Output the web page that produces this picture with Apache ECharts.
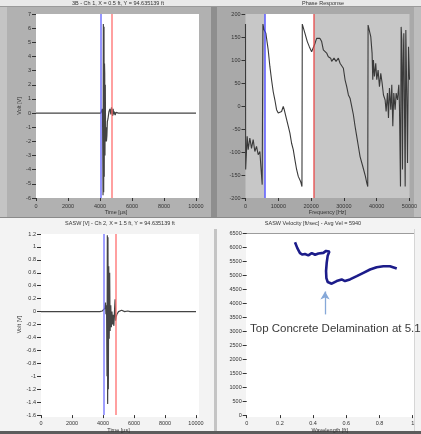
<!DOCTYPE html>
<html>
<head>
<meta charset="utf-8">
<script src="https://cdn.jsdelivr.net/npm/echarts@6/dist/echarts.min.js"></script>
<style>
  html, body { margin: 0; padding: 0; background: #f3f3f3; }
  #chart { width: 421px; height: 434px; }
</style>
</head>
<body>
<div id="chart"></div>
<script>
// ---- Channel 1 time trace (µs, V) ----
const ch1Time = [0, 4050, 4100, 4140, 4160, 4190, 4210, 4230, 4250, 4265, 4280, 4295, 4310, 4330, 4350, 4380, 4400, 4430, 4460, 4500, 4560, 4620, 4680, 4720, 4760, 4790, 4820, 4860, 4900, 4950, 5000, 5060, 5150, 10000];
const ch1Volt = [0, 0, -0.05, 0.3, -0.1, -5.8, 6.3, -5.6, 6.1, -4.5, 3.5, 2.8, -3.0, 2.0, -2.0, -1.0, -2.0, -1.6, -0.6, -0.4, 0.1, 0.3, -0.1, 0.4, 0.5, -0.2, 0.3, -0.1, 0.1, -0.15, 0.05, -0.05, 0, 0];
const ch1Cursors = [4050, 4750];

// ---- Phase response (Hz, degrees) ----
const phaseFreq = [0, 50, 510, 820, 1320, 1830, 2340, 2850, 3360, 3870, 4380, 4680, 5090, 5300, 5310, 5700, 6210, 6920, 7430, 7940, 8450, 8960, 9470, 9980, 10490, 11000, 11510, 11810, 12320, 13030, 13540, 14050, 14560, 15070, 15580, 16090, 16800, 17210, 17310, 17620, 18130, 18840, 19450, 20160, 20670, 21180, 21690, 22710, 23220, 23730, 24740, 25250, 25970, 26270, 26990, 27600, 28310, 28820, 29330, 29840, 30350, 30860, 31370, 31870, 32380, 32890, 33400, 33910, 34420, 34930, 35740, 36560, 36970, 37270, 37370, 37780, 38190, 38590, 38800, 39000, 39310, 39710, 40020, 40430, 40840, 41240, 41650, 42060, 42570, 42870, 43280, 43590, 43890, 44300, 44600, 44910, 45210, 45620, 45930, 46330, 46740, 46940, 47250, 47450, 47660, 47860, 48060, 48270, 48470, 48680, 48880, 49190, 49390, 49700, 50000];
const phaseDeg = [178, -138, -66, -95, -70, -92, -73, -99, -88, -106, -99, -131, -171, -175, 178, 165, 158, 122, 86, 57, 31, 13, -8, -15, -15, -12, -1, -8, -23, -44, -59, -81, -95, -117, -138, -153, -164, -175, 178, 176, 158, 140, 129, 118, 115, 136, 147, 147, 140, 122, 115, 107, 104, 97, 104, 97, 104, 93, 97, 82, 57, 42, 24, 17, -1, -19, -44, -66, -88, -110, -131, -153, -167, -175, 176, 172, 151, 115, 57, 100, 64, 93, 57, 78, 42, 71, 50, 24, 13, -12, 28, -26, 39, -8, 46, -44, 28, -8, 28, 13, 46, -1, -175, 172, 144, -138, 86, 158, -1, -175, 165, 13, -124, 129, 57];
const phaseCursors = [5800, 20900];
const phaseFreqRange = [0, 50000];
const phaseRange = [-200, 200];

// ---- Channel 2 time trace (µs, V) ----
const ch2Time = [0, 3800, 3950, 4050, 4120, 4160, 4190, 4230, 4260, 4280, 4300, 4320, 4345, 4370, 4400, 4430, 4460, 4500, 4540, 4580, 4620, 4660, 4700, 4740, 4780, 4810, 4850, 4900, 4950, 5000, 5100, 5200, 5400, 5600, 5750, 10000];
const ch2Volt = [0, 0, 0.01, 0.03, 0.05, 0.14, -0.04, 0.1, -1.0, 1.18, -1.43, 1.15, -1.2, 0.7, -0.42, 0.6, -0.3, 0.1, -0.24, 0.0, -0.2, -0.05, -0.22, 0.0, 0.19, -0.14, -0.08, -0.04, -0.05, 0.0, 0.03, 0.02, 0.0, 0.01, 0, 0];
const ch2Cursors = [4030, 4810];

// ---- SASW velocity profile ----
const profileX = [0.291, 0.305, 0.321, 0.336, 0.351, 0.371, 0.392, 0.412, 0.432, 0.442, 0.462, 0.478, 0.488, 0.498, 0.488, 0.482, 0.478, 0.480, 0.488, 0.512, 0.542, 0.572, 0.592, 0.622, 0.663, 0.703, 0.743, 0.783, 0.823, 0.863, 0.904];
const profileVel = [6182, 5970, 5793, 5740, 5758, 5711, 5793, 5734, 5780, 5829, 5800, 5870, 5934, 5850, 5700, 5450, 5150, 4900, 4760, 4698, 4792, 4851, 4792, 4851, 4969, 5087, 5205, 5287, 5322, 5322, 5240];
const arrowX = 0.472;
const arrowVel = [3600, 4420];

// ---- Titles and labels ----
const titleCh1 = '3B - Ch 1, X = 0.5 ft, Y = 94.635139 ft';
const titlePhase = 'Phase Response';
const titleCh2 = 'SASW [V] - Ch 2, X = 1.5 ft, Y = 94.635139 ft';
const titleVel = 'SASW Velocity [ft/sec] - Avg Vel = 5940';
const noteText = "Top Concrete Delamination at 5.1'";

const pairs = (xs, ys) => xs.map((x, i) => [x, ys[i]]);
const plain = v => String(Math.round(v * 1000) / 1000);

const TXT = '#333';
const FONT = 'Liberation Sans';

function valueAxis(grid, min, max, interval, extra) {
  return Object.assign({
    type: 'value', gridIndex: grid, min: min, max: max, interval: interval,
    splitLine: { show: false },
    axisLine: { show: false, onZero: false },
    axisTick: { show: true, inside: false, length: 4, lineStyle: { color: '#333', width: 1 } },
    axisLabel: { color: TXT, fontSize: 5.5, fontFamily: FONT, margin: 5, formatter: plain },
    nameTextStyle: { color: TXT, fontSize: 5.5, fontFamily: FONT }
  }, extra || {});
}

function cursorSeries(xi, yi, xs, colors) {
  return {
    type: 'line', xAxisIndex: xi, yAxisIndex: yi, data: [], z: 4, silent: true,
    markLine: {
      symbol: ['none', 'none'], silent: true, animation: false,
      label: { show: false },
      data: xs.map((v, i) => ({ xAxis: v, lineStyle: { color: colors[i], width: 1.5, type: 'solid', opacity: 0.85 } }))
    }
  };
}

const chart = echarts.init(document.getElementById('chart'), null, { renderer: 'canvas' });

const rect = (x, y, w, h, fill, z) => ({ type: 'rect', shape: { x: x, y: y, width: w, height: h }, style: { fill: fill }, z: z });
const text = (x, y, str, size, align, fill) => ({
  type: 'text', x: x, y: y, z: 100,
  style: { text: str, fill: fill || TXT, fontSize: size, fontFamily: FONT, align: align, verticalAlign: 'middle' }
});

// panel frames, plot-area fills, then titles and the annotation note
const graphics = [
  rect(0, 0, 421, 6, '#e9e9e9', -20),
  rect(0, 6, 421, 1, '#9a9a9a', -20),
  rect(0, 7, 213, 210, '#b1b1b1', -20),
  rect(0, 7, 7, 210, '#c4c4c4', -19),
  rect(211, 7, 6, 210, '#8e8e8e', -19),
  rect(217, 7, 204, 210, '#a9a9a9', -20),
  rect(414, 7, 7, 210, '#bdbdbd', -19),
  rect(0, 217, 421, 1, '#8a8a8a', -19),
  rect(214, 229, 3, 203, '#c4c4c4', -19),
  rect(414, 229, 1, 203, '#d6d6d6', -19),
  rect(0, 431, 421, 3, '#5c5c5c', -19),
  rect(36, 14, 163, 184, '#ffffff', -15),
  rect(41, 234, 158, 183, '#ffffff', -15),
  rect(246, 233, 168, 184, '#ffffff', -15),
  rect(246, 233, 168, 1, '#9c9c9c', -14),
  text(118, 3.5, titleCh1, 5.5, 'center'),
  text(323, 3.5, titlePhase, 5.5, 'center'),
  text(120, 223.5, titleCh2, 5.5, 'center'),
  text(313, 223.5, titleVel, 5.5, 'center'),
  text(250, 328.5, noteText, 11.5, 'left', '#3a3a3a')
];

const xTick = { length: 3, lineStyle: { color: '#333' } };

// phase plot background: gray field with a white band between the cursors
const phaseBands = [
  [phaseFreqRange[0], phaseFreqRange[1], phaseRange[0], phaseRange[1], '#c7c7c7'],
  [phaseCursors[0], phaseCursors[1], phaseRange[0], phaseRange[1], '#ffffff']
];

const option = {
  animation: false,
  backgroundColor: '#f3f3f3',
  graphic: graphics,
  grid: [
    { left: 36, top: 14, width: 160, height: 184 },
    { left: 245.5, top: 14, width: 164, height: 184 },
    { left: 41, top: 234, width: 155, height: 183 },
    { left: 246.7, top: 233.3, width: 166, height: 184 }
  ],
  xAxis: [
    valueAxis(0, 0, 10000, 2000, { name: 'Time [µs]', nameLocation: 'middle', nameGap: 11, axisTick: xTick }),
    valueAxis(1, phaseFreqRange[0], phaseFreqRange[1], 10000, { name: 'Frequency [Hz]', nameLocation: 'middle', nameGap: 11, axisTick: xTick }),
    valueAxis(2, 0, 10000, 2000, { name: 'Time [µs]', nameLocation: 'middle', nameGap: 11, axisTick: xTick }),
    valueAxis(3, 0, 1, 0.2, { name: 'Wavelength [ft]', nameLocation: 'middle', nameGap: 11, axisTick: xTick })
  ],
  yAxis: [
    valueAxis(0, -6, 7, 1, { name: 'Volt [V]', nameLocation: 'middle', nameGap: 13 }),
    valueAxis(1, phaseRange[0], phaseRange[1], 50),
    valueAxis(2, -1.6, 1.2, 0.2, { name: 'Volt [V]', nameLocation: 'middle', nameGap: 11 }),
    valueAxis(3, 0, 6500, 500)
  ],
  series: [
    cursorSeries(0, 0, ch1Cursors, ['#5a5aff', '#ff6a6a']),
    {
      type: 'line', xAxisIndex: 0, yAxisIndex: 0, data: pairs(ch1Time, ch1Volt),
      showSymbol: false, lineStyle: { color: '#444', width: 1.2 }, z: 3
    },
    {
      type: 'custom', xAxisIndex: 1, yAxisIndex: 1, z: 1, silent: true, clip: false,
      encode: { x: [0, 1], y: [2, 3] },
      data: phaseBands,
      renderItem: function (params, api) {
        const p0 = api.coord([api.value(0), api.value(3)]);
        const p1 = api.coord([api.value(1), api.value(2)]);
        return {
          type: 'rect',
          shape: { x: p0[0], y: p0[1], width: p1[0] - p0[0], height: p1[1] - p0[1] },
          style: { fill: phaseBands[params.dataIndex][4] }
        };
      }
    },
    cursorSeries(1, 1, phaseCursors, ['#3b3bff', '#e84545']),
    {
      type: 'line', xAxisIndex: 1, yAxisIndex: 1, data: pairs(phaseFreq, phaseDeg),
      showSymbol: false, lineStyle: { color: '#3a3a3a', width: 1.1 }, z: 3
    },
    cursorSeries(2, 2, ch2Cursors, ['#6a6aff', '#ff6a6a']),
    {
      type: 'line', xAxisIndex: 2, yAxisIndex: 2, data: pairs(ch2Time, ch2Volt),
      showSymbol: false, lineStyle: { color: '#444', width: 1.2 }, z: 3
    },
    {
      type: 'line', xAxisIndex: 3, yAxisIndex: 3, data: pairs(profileX, profileVel),
      showSymbol: false, lineStyle: { color: '#1c1c8a', width: 2.6 }, z: 3,
      markLine: {
        silent: true, animation: false,
        symbol: ['none', 'arrow'], symbolSize: [7, 8],
        label: { show: false },
        lineStyle: { color: '#86a8d8', width: 1.3, type: 'solid' },
        data: [[{ coord: [arrowX, arrowVel[0]] }, { coord: [arrowX, arrowVel[1]] }]]
      }
    }
  ]
};

chart.setOption(option);
</script>
</body>
</html>
